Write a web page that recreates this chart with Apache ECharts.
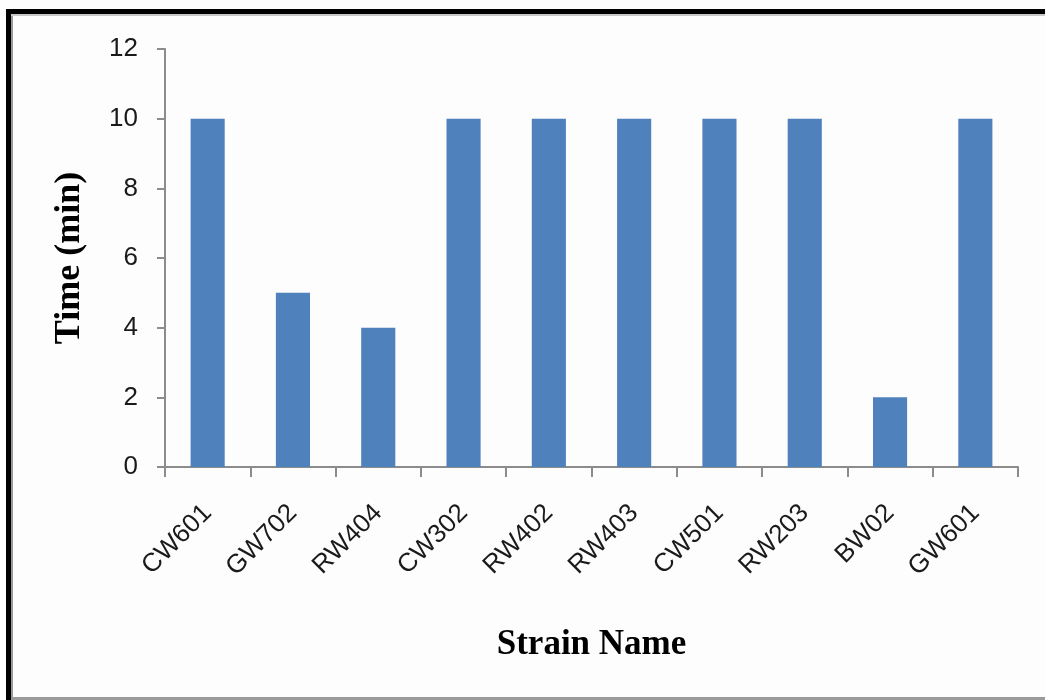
<!DOCTYPE html>
<html>
<head>
<meta charset="utf-8">
<script src="https://cdn.jsdelivr.net/npm/echarts@6/dist/echarts.min.js"></script>
<style>
  html, body { margin: 0; padding: 0; background: #fdfdfd; }
  #chart { width: 1045px; height: 700px; }
</style>
</head>
<body>
<div id="chart"></div>
<script>
// Strain names along the x axis
const strains = ['CW601', 'GW702', 'RW404', 'CW302', 'RW402', 'RW403', 'CW501', 'RW203', 'BW02', 'GW601'];
// Time in minutes for each strain
const timeMin = [10, 5, 4, 10, 10, 10, 10, 10, 2, 10];
// Y axis range and tick step
const yMin = 0;
const yMax = 12;
const yStep = 2;

const chart = echarts.init(document.getElementById('chart'));

const axisGray = '#8c8c8c';

chart.setOption({
  backgroundColor: '#fdfdfd',
  animation: false,
  grid: { left: 165, right: 27, top: 49, bottom: 233 },
  xAxis: {
    type: 'category',
    data: strains,
    name: 'Strain Name',
    nameLocation: 'middle',
    nameGap: 160,
    nameTextStyle: {
      fontFamily: 'Liberation Serif', fontWeight: 'bold', fontSize: 35, color: '#000'
    },
    axisLine: { lineStyle: { color: axisGray, width: 2 } },
    axisTick: { show: true, alignWithLabel: false, length: 10, lineStyle: { color: axisGray, width: 2 } },
    axisLabel: {
      rotate: 45,
      interval: 0,
      margin: 42,
      fontFamily: 'Liberation Sans',
      fontSize: 26,
      color: '#1a1a1a'
    }
  },
  yAxis: {
    type: 'value',
    min: yMin,
    max: yMax,
    interval: yStep,
    name: 'Time (min)',
    nameLocation: 'middle',
    nameGap: 77,
    nameRotate: 90,
    nameTextStyle: {
      fontFamily: 'Liberation Serif', fontWeight: 'bold', fontSize: 36, color: '#000'
    },
    axisLine: { show: true, lineStyle: { color: axisGray, width: 2 } },
    axisTick: { show: true, inside: false, length: 8, lineStyle: { color: axisGray, width: 2 } },
    splitLine: { show: false },
    axisLabel: {
      margin: 27,
      fontFamily: 'Liberation Sans',
      fontSize: 26,
      color: '#1a1a1a'
    }
  },
  series: [{
    type: 'bar',
    data: timeMin,
    barWidth: '40%',
    itemStyle: { color: '#4f81bd' }
  }],
  graphic: [
    // outer frame: heavy top and left edges, light inner and bottom edges
    { type: 'rect', shape: { x: 6, y: 9, width: 1039, height: 5 }, style: { fill: '#000' } },
    { type: 'rect', shape: { x: 6, y: 9, width: 5, height: 691 }, style: { fill: '#000' } },
    { type: 'rect', shape: { x: 11, y: 14, width: 2, height: 686 }, style: { fill: '#9a9a9a' } },
    { type: 'rect', shape: { x: 11, y: 14, width: 1034, height: 2 }, style: { fill: '#c8c8c8' } },
    { type: 'rect', shape: { x: 11, y: 697, width: 1034, height: 3 }, style: { fill: '#9a9a9a' } }
  ]
});
</script>
</body>
</html>
